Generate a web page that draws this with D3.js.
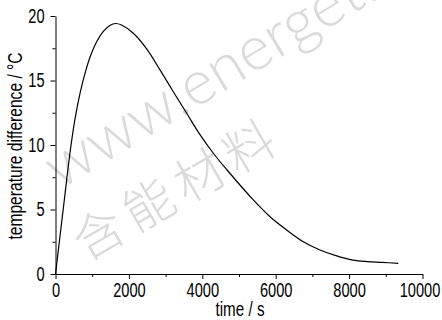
<!DOCTYPE html>
<html>
<head>
<meta charset="utf-8">
<script src="https://cdn.jsdelivr.net/npm/d3@7"></script>
<style>
  body { margin: 0; background: #fff; }
  svg { display: block; }
  .axis text { font-family: "Liberation Sans", Arial, sans-serif; font-size: 20px; fill: #000; }
  .axis path, .axis line { stroke: #000; stroke-width: 1; }
  .title { font-family: "Liberation Sans", Arial, sans-serif; font-size: 20px; fill: #000; }
</style>
</head>
<body>
<svg width="442" height="320"></svg>
<script>
// values
const time = [0, 130, 259, 395, 531, 668, 804, 940, 1122, 1303, 1480, 1640, 1800, 2120, 2484, 2847, 3210, 3575, 3937, 4300, 4663, 5390, 5845, 6300, 6752, 7207, 7662, 8100, 8500, 8900, 9340];
const tempDiff = [0, 3.1, 6.2, 9.4, 12.0, 14.0, 15.55, 16.8, 18.0, 18.8, 19.27, 19.42, 19.3, 18.66, 17.45, 15.82, 14.13, 12.46, 10.8, 9.36, 8.1, 5.74, 4.44, 3.41, 2.5, 1.86, 1.4, 1.08, 0.96, 0.9, 0.83];
const xTicks = [0, 2000, 4000, 6000, 8000, 10000];
const yTicks = [0, 5, 10, 15, 20];
const xMinor = [1000, 3000, 5000, 7000, 9000];
const yMinor = [2.5, 7.5, 12.5, 17.5];

const margin = { left: 55.5, right: 19.5, top: 16, bottom: 46 };
const svg = d3.select('svg');
const width = 442 - margin.left - margin.right;
const height = 320 - margin.top - margin.bottom;

// the reference font is condensed, squeeze the text horizontally
function narrow(sel, squeeze = 0.75) {
  sel.each(function () {
    const len = this.getComputedTextLength();
    d3.select(this).attr('textLength', len * squeeze).attr('lengthAdjust', 'spacingAndGlyphs');
  });
}

// watermark
const wm = svg.append('g').attr('fill', '#dadada').attr('font-family', 'Lato, "Open Sans", sans-serif').attr('font-weight', 300);
wm.append('text')
  .attr('transform', 'translate(60,190) rotate(-31)')
  .attr('font-size', 62)
  .text('www.energetic-materials.org.cn');
wm.append('text')
  .attr('transform', 'translate(86,262) rotate(-30)')
  .attr('font-size', 50)
  .attr('font-family', '"Noto Sans CJK SC", sans-serif')
  .attr('letter-spacing', 8)
  .text('含能材料');

const g = svg.append('g').attr('transform', `translate(${margin.left}, ${margin.top})`);

const x = d3.scaleLinear().domain([0, 10000]).range([0, width]);
const y = d3.scaleLinear().domain([0, 20]).range([height, 0]);

// minor ticks
g.append('g')
  .attr('class', 'axis')
  .attr('transform', `translate(0, ${height})`)
  .call(d3.axisBottom(x).tickValues(xMinor).tickSize(3).tickFormat(''))
  .select('.domain').remove();
g.append('g')
  .attr('class', 'axis')
  .call(d3.axisLeft(y).tickValues(yMinor).tickSize(3).tickFormat(''))
  .select('.domain').remove();

// major axes
const xAxis = g.append('g')
  .attr('class', 'axis')
  .attr('transform', `translate(0, ${height})`)
  .call(d3.axisBottom(x).tickValues(xTicks).tickSize(5).tickSizeOuter(0).tickPadding(4).tickFormat(d3.format('d')));
xAxis.selectAll('text').call(narrow, 0.73);
// last label sits a little left of its tick so it stays inside
xAxis.selectAll('.tick').filter(d => d === 10000).select('text').attr('x', -3);

g.append('g')
  .attr('class', 'axis')
  .call(d3.axisLeft(y).tickValues(yTicks).tickSize(5).tickSizeOuter(0).tickPadding(6).tickFormat(d3.format('d')))
  .selectAll('text').call(narrow, 0.73);

const data = time.map((t, i) => ({ t, v: tempDiff[i] }));
const line = d3.line()
  .x(d => x(d.t))
  .y(d => y(d.v))
  .curve(d3.curveCatmullRom.alpha(0.5));

g.append('path')
  .datum(data)
  .attr('fill', 'none')
  .attr('stroke', '#000')
  .attr('stroke-width', 1.2)
  .attr('d', line);

// axis titles
svg.append('text')
  .attr('class', 'title')
  .attr('x', margin.left + width / 2 + 1)
  .attr('y', 315.5)
  .attr('text-anchor', 'middle')
  .text('time / s')
  .call(narrow, 0.76);
svg.append('text')
  .attr('class', 'title')
  .attr('transform', 'translate(22, 146) rotate(-90)')
  .attr('text-anchor', 'middle')
  .text('temperature difference / °C')
  .call(narrow, 0.78);
</script>
</body>
</html>
